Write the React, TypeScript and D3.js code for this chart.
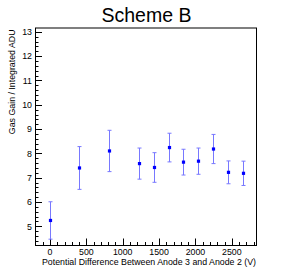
import * as d3 from "d3";
import { useEffect, useRef } from "react";

// potential difference (V), gas gain and its error
const voltages = [0, 405, 815, 1230, 1430, 1630, 1835, 2040, 2245, 2450, 2655];
const gains = [5.24, 7.4, 8.1, 7.58, 7.42, 8.24, 7.64, 7.68, 8.18, 7.22, 7.18];
const errors = [0.77, 0.88, 0.85, 0.64, 0.61, 0.59, 0.53, 0.54, 0.6, 0.47, 0.5];
const xTicks = [0, 500, 1000, 1500, 2000, 2500];
const yTicks = [5, 6, 7, 8, 9, 10, 11, 12, 13];

export default function App() {
  const svgRef = useRef<SVGSVGElement>(null);

  useEffect(() => {
    if (!svgRef.current) return;
    const svg = d3.select(svgRef.current);
    svg.selectAll("*").remove();

    const left = 35, right = 256, top = 27.5, bottom = 245.5;
    const font = "'Liberation Sans', Arial, sans-serif";

    const x = d3.scaleLinear().domain([-206, 2833]).range([left, right]);
    const y = d3.scaleLinear().domain([4.21, 13.18]).range([bottom, top]);

    svg
      .append("rect")
      .attr("x", left + 0.5)
      .attr("y", top + 0.5)
      .attr("width", right - left)
      .attr("height", bottom - top - 0.5)
      .attr("fill", "none")
      .attr("stroke", "#000")
      .attr("stroke-width", 1);

    // x ticks
    const g = svg.append("g");
    const xMinor = d3.range(-200, 2801, 100);
    g.selectAll(".xm")
      .data(xMinor)
      .enter()
      .append("line")
      .attr("x1", (d) => Math.round(x(d)) + 0.5)
      .attr("x2", (d) => Math.round(x(d)) + 0.5)
      .attr("y1", bottom)
      .attr("y2", (d) => bottom - (d % 500 === 0 ? 7 : 3.5))
      .attr("stroke", "#000");
    g.selectAll(".xl")
      .data(xTicks)
      .enter()
      .append("text")
      .attr("x", (d) => x(d))
      .attr("y", 254.5)
      .attr("text-anchor", "middle")
      .attr("font-family", font)
      .attr("font-size", 8.8)
      .text((d) => d);

    // y ticks
    const yMinor = d3.range(4.4, 13.1, 0.2).map((v) => +v.toFixed(1));
    g.selectAll(".ym")
      .data(yMinor)
      .enter()
      .append("line")
      .attr("y1", (d) => Math.round(y(d)) + 0.5)
      .attr("y2", (d) => Math.round(y(d)) + 0.5)
      .attr("x1", left)
      .attr("x2", (d) => left + (Number.isInteger(d) ? 7 : 3.5))
      .attr("stroke", "#000");
    g.selectAll(".yl")
      .data(yTicks)
      .enter()
      .append("text")
      .attr("x", 32)
      .attr("y", (d) => y(d) + 3.2)
      .attr("text-anchor", "end")
      .attr("font-family", font)
      .attr("font-size", 8.8)
      .text((d) => d);

    // error bars
    const pts = voltages.map((v, i) => ({ v, g: gains[i], e: errors[i] }));
    const eb = svg.append("g").attr("stroke", "#7878ff").attr("stroke-width", 1);
    pts.forEach((p) => {
      const cx = Math.round(x(p.v)) + 0.5;
      const y1 = Math.max(y(p.g + p.e), top);
      const y2 = y(p.g - p.e);
      eb.append("line").attr("x1", cx).attr("x2", cx).attr("y1", y1).attr("y2", y2);
      eb.append("line").attr("x1", cx - 2).attr("x2", cx + 2).attr("y1", y1).attr("y2", y1);
      eb.append("line").attr("x1", cx - 2).attr("x2", cx + 2).attr("y1", y2).attr("y2", y2);
    });

    svg
      .selectAll(".pt")
      .data(pts)
      .enter()
      .append("rect")
      .attr("x", (d) => Math.round(x(d.v)) + 0.5 - 1.6)
      .attr("y", (d) => y(d.g) - 1.6)
      .attr("width", 3.2)
      .attr("height", 3.2)
      .attr("fill", "#0000ff");

    // titles
    svg
      .append("text")
      .attr("x", 146.5)
      .attr("y", 21.5)
      .attr("text-anchor", "middle")
      .attr("font-family", font)
      .attr("font-size", 19.5)
      .text("Scheme B");

    svg
      .append("text")
      .attr("x", right)
      .attr("y", 265)
      .attr("text-anchor", "end")
      .attr("font-family", font)
      .attr("font-size", 8.8)
      .text("Potential Difference Between Anode 3 and Anode 2 (V)");

    svg
      .append("text")
      .attr("transform", `translate(14.5,${top + 2}) rotate(-90)`)
      .attr("text-anchor", "end")
      .attr("font-family", font)
      .attr("font-size", 8.8)
      .text("Gas Gain / Integrated ADU");
  }, []);

  return (
    <svg
      ref={svgRef}
      width={293}
      height={279}
      style={{ position: "absolute", left: 0, top: 0, background: "#fff" }}
    />
  );
}
